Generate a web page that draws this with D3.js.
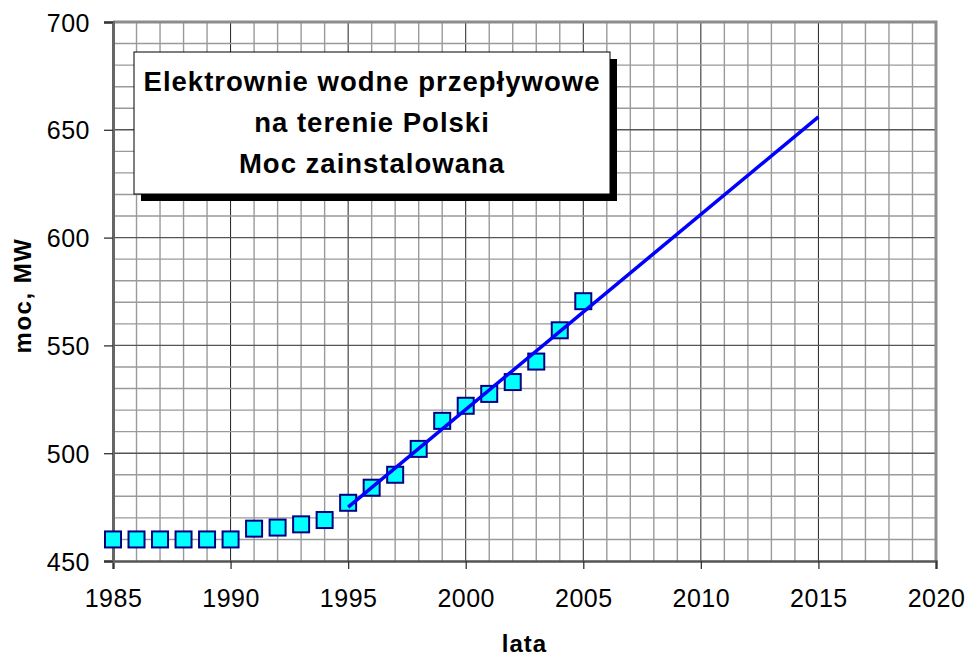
<!DOCTYPE html>
<html lang="pl">
  <head>
    <meta charset="utf-8">
    <title>Elektrownie wodne przepływowe</title>
    <script src="https://cdn.jsdelivr.net/npm/d3@7"></script>
    <style>
      body { margin: 0; background: #fff; }
      text { font-family: Arial, "Liberation Sans", sans-serif; }
    </style>
  </head>
  <body>
    <svg width="965" height="657" id="mainsvg"></svg>
    <script>
      // dane
      const years = [1985, 1986, 1987, 1988, 1989, 1990, 1991, 1992, 1993, 1994, 1995,
        1996, 1997, 1998, 1999, 2000, 2001, 2002, 2003, 2004, 2005];
      const power = [460, 460, 460, 460, 460, 460, 465, 465.5, 467, 469, 477,
        484, 490, 502, 515, 522, 527.5, 533, 542.5, 557, 570.5];
      const trendYears = [1995, 2015];
      const trendPower = [475, 656];
      const xTicks = [1985, 1990, 1995, 2000, 2005, 2010, 2015, 2020];
      const yTicks = [450, 500, 550, 600, 650, 700];
      const titleLines = ['Elektrownie wodne przepływowe', 'na terenie Polski', 'Moc zainstalowana'];

      const svg = d3.select('#mainsvg');
      const margin = { top: 22, right: 29, bottom: 96, left: 113 };
      const innerWidth = 965 - margin.left - margin.right;
      const innerHeight = 657 - margin.top - margin.bottom;

      const x = d3.scaleLinear().domain([1985, 2020]).range([0, innerWidth]);
      const y = d3.scaleLinear().domain([450, 700]).range([innerHeight, 0]);

      const g = svg.append('g')
        .attr('transform', `translate(${margin.left}, ${margin.top})`);

      // siatka pomocnicza
      g.append('g').selectAll('line').data(d3.range(1986, 2020))
        .join('line')
        .attr('x1', d => x(d)).attr('x2', d => x(d))
        .attr('y1', 0).attr('y2', innerHeight)
        .attr('stroke', d => d % 5 === 0 ? '#222' : '#9a9a9a')
        .attr('stroke-width', d => d % 5 === 0 ? 1 : 1.4);
      g.append('g').selectAll('line').data(d3.range(460, 700, 10))
        .join('line')
        .attr('y1', d => y(d)).attr('y2', d => y(d))
        .attr('x1', 0).attr('x2', innerWidth)
        .attr('stroke', d => d % 50 === 0 ? '#555' : '#9a9a9a')
        .attr('stroke-width', 1.4);

      // ramka
      g.append('path')
        .attr('d', `M0,0H${innerWidth}V${innerHeight}`)
        .attr('fill', 'none').attr('stroke', '#8c8c8c').attr('stroke-width', 3);

      // osie
      const xAxis = d3.axisBottom(x).tickValues(xTicks).tickFormat(d3.format('d'))
        .tickSize(8).tickPadding(20);
      const gx = g.append('g').attr('transform', `translate(0, ${innerHeight})`).call(xAxis);
      const yAxis = d3.axisLeft(y).tickValues(yTicks).tickSize(9).tickPadding(14);
      const gy = g.append('g').call(yAxis);
      gx.select('.domain').attr('stroke', '#555').attr('stroke-width', 2.5);
      gy.select('.domain').attr('stroke', '#666').attr('stroke-width', 3);
      svg.selectAll('.tick line').attr('stroke', '#333').attr('stroke-width', 1.3);
      svg.selectAll('.tick text')
        .attr('font-size', '25px').attr('fill', '#000')
        .attr('letter-spacing', '0.5px')
        .attr('font-family', 'Arial, "Liberation Sans", sans-serif');
      gy.selectAll('.tick text').attr('dy', '0.36em');

      // tytuł w ramce z cieniem
      const box = { x: 21, y: 30, w: 476, h: 142 };
      g.append('rect')
        .attr('x', box.x + 7).attr('y', box.y + 7)
        .attr('width', box.w).attr('height', box.h)
        .attr('fill', '#000');
      g.append('rect')
        .attr('x', box.x).attr('y', box.y)
        .attr('width', box.w).attr('height', box.h)
        .attr('fill', '#fff').attr('stroke', '#000').attr('stroke-width', 1);
      g.append('g').selectAll('text').data(titleLines)
        .join('text')
        .text(d => d)
        .attr('x', box.x + box.w / 2)
        .attr('y', (d, i) => box.y + 39 + i * 41)
        .attr('text-anchor', 'middle')
        .attr('font-size', '27.5px')
        .attr('letter-spacing', '1px')
        .attr('font-weight', 'bold');

      // punkty
      const s = 16;
      g.append('g').selectAll('rect').data(years)
        .join('rect')
        .attr('x', d => x(d) - s / 2)
        .attr('y', (d, i) => y(power[i]) - s / 2)
        .attr('width', s).attr('height', s)
        .attr('fill', '#00ffff').attr('stroke', '#000080').attr('stroke-width', 2);

      // linia trendu (nad punktami)
      g.append('path')
        .datum(trendYears.map((d, i) => [d, trendPower[i]]))
        .attr('d', d3.line().x(d => x(d[0])).y(d => y(d[1])))
        .attr('fill', 'none').attr('stroke', '#0000ff').attr('stroke-width', 3.5);

      // opisy osi
      svg.append('text').text('lata')
        .attr('x', margin.left + innerWidth / 2).attr('y', 652)
        .attr('text-anchor', 'middle')
        .attr('font-size', '24px').attr('letter-spacing', '1px')
        .attr('font-weight', 'bold');
      svg.append('text').text('moc, MW')
        .attr('transform', `translate(31, ${margin.top + innerHeight / 2 + 4}) rotate(-90)`)
        .attr('text-anchor', 'middle')
        .attr('font-size', '24px').attr('letter-spacing', '1.5px')
        .attr('font-weight', 'bold');
    </script>
  </body>
</html>
